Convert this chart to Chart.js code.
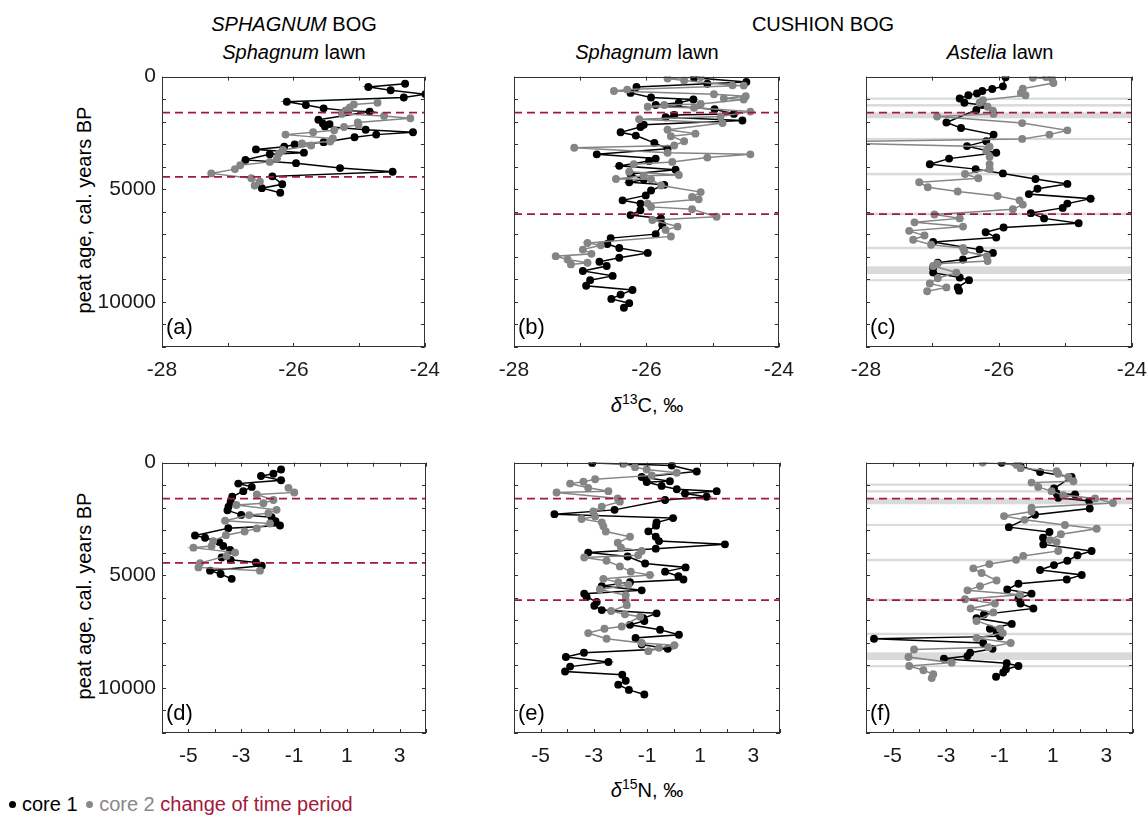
<!DOCTYPE html>
<html>
<head>
<meta charset="utf-8">
<script src="https://cdn.jsdelivr.net/npm/chart.js@4.4.0/dist/chart.umd.min.js"></script>
<style>
  body { margin: 0; width: 1148px; height: 817px; position: relative; background: #fff; overflow: hidden;
         font-family: "Liberation Sans", Arial, sans-serif; color: #000; }
  .c { position: absolute; }
  .t { position: absolute; font-size: 20px; white-space: nowrap; transform: translate(-50%, -50%); }
  .yl { position: absolute; font-size: 20px; white-space: nowrap; transform: translate(-50%, -50%) rotate(-90deg); }
  .pl { position: absolute; font-size: 22px; }
  #legend { position: absolute; left: 6px; top: 793px; font-size: 20px; white-space: nowrap; }
  #legend .dot { display: inline-block; width: 7px; height: 7px; border-radius: 50%; margin: 0 6px 2px 3px; vertical-align: middle; }
</style>
</head>
<body>
<div class="t" style="left:294px;top:24px"><i>SPHAGNUM</i> BOG</div>
<div class="t" style="left:294px;top:52px"><i>Sphagnum</i> lawn</div>
<div class="t" style="left:823px;top:24px">CUSHION BOG</div>
<div class="t" style="left:647px;top:52px"><i>Sphagnum</i> lawn</div>
<div class="t" style="left:1000px;top:52px"><i>Astelia</i> lawn</div>
<div class="yl" style="left:84px;top:210px">peat age, cal. years BP</div>
<div class="yl" style="left:84px;top:596px">peat age, cal. years BP</div>
<div class="t" style="left:647px;top:404px"><i>&delta;</i><sup style="font-size:14px">13</sup>C, &permil;</div>
<div class="t" style="left:647px;top:789px"><i>&delta;</i><sup style="font-size:14px">15</sup>N, &permil;</div>
<div id="legend"><span class="dot" style="background:#000"></span>core 1 <span class="dot" style="background:#888"></span><span style="color:#888">core 2</span> <span style="color:#a3183c">change of time period</span></div>

<script>
// axis ranges
const xC13 = [-28, -24];
const xN15 = [-6, 4];
const ageRange = [0, 12000];

// change of time period (cal. years BP)
const breaksSphagnumBog = [1600, 4450];
const breaksCushionBog = [1600, 6100];

// grey bands in the Astelia lawn profiles (cal. years BP)
const bandsAstelia = [[930, 1030], [1220, 1330], [1590, 1850], [2720, 2810], [4270, 4380],
  [6040, 6150], [7550, 7660], [8420, 8760], [8990, 9080]];

// [age, value] pairs
// (a) Sphagnum bog, Sphagnum lawn, d13C
const a1 = [[315,-24.30],[461,-24.86],[607,-24.52],[781,-23.99],[927,-24.32],[1117,-26.10],[1263,-25.81],
  [1408,-25.54],[1510,-25.20],[1554,-24.84],[1918,-25.62],[2093,-25.55],[2108,-25.45],[2210,-25.52],
  [2356,-24.90],[2473,-24.18],[2575,-24.74],[2690,-25.07],[2909,-25.54],[3011,-25.98],[3113,-26.14],
  [3230,-26.57],[3375,-25.84],[3448,-26.36],[3696,-26.73],[3842,-25.96],[4060,-25.29],[4221,-24.49],
  [4426,-26.32],[4776,-26.17],[4951,-26.48],[5155,-26.20]];
const a2 = [[1160,-24.72],[1233,-25.08],[1365,-25.14],[1510,-25.20],[1656,-25.26],[1744,-24.62],[1846,-24.22],
  [2035,-25.02],[2137,-25.01],[2240,-25.23],[2385,-25.38],[2473,-25.70],[2575,-26.12],[2750,-25.40],
  [2881,-25.44],[2968,-25.87],[3056,-25.73],[3260,-26.16],[3406,-26.22],[3640,-26.25],[3785,-26.36],
  [3931,-26.81],[4106,-26.89],[4296,-27.25],[4514,-26.64],[4660,-26.51],[4835,-26.59]];

// (b) Cushion bog, Sphagnum lawn, d13C
const b1 = [[52,-25.28],[242,-24.49],[315,-25.08],[461,-26.15],[723,-26.24],[927,-25.93],[1015,-25.29],
  [1161,-25.51],[1263,-25.86],[1452,-24.97],[1656,-24.68],[1700,-25.58],[1802,-25.71],[1948,-24.55],
  [2137,-26.04],[2240,-26.09],[2473,-26.39],[2618,-26.16],[2939,-25.88],[3202,-25.68],[3450,-26.75],
  [3639,-25.86],[3741,-25.96],[3960,-26.41],[4135,-25.56],[4325,-26.24],[4572,-26.04],[4689,-26.26],
  [4805,-25.73],[5053,-25.93],[5272,-26.01],[5491,-26.36],[5637,-26.09],[5928,-26.09],[6147,-26.24],
  [6292,-25.78],[6584,-25.76],[6992,-25.86],[7167,-26.54],[7430,-26.59],[7605,-26.41],[7823,-25.98],
  [8042,-26.41],[8217,-26.71],[8407,-26.60],[8625,-26.96],[8844,-26.51],[9034,-26.85],[9282,-26.91],
  [9471,-26.21],[9675,-26.39],[9865,-26.53],[10054,-26.26],[10258,-26.34]];
const b2 = [[23,-25.18],[82,-25.68],[169,-25.43],[388,-24.70],[400,-24.53],[577,-26.29],[636,-26.49],
  [781,-24.98],[869,-24.50],[971,-24.83],[1015,-24.53],[1219,-25.18],[1263,-25.73],[1336,-25.98],
  [1380,-25.28],[1554,-24.43],[1773,-24.88],[1889,-26.11],[2064,-24.85],[2356,-25.68],[2531,-25.26],
  [2648,-25.63],[2866,-25.43],[3056,-25.58],[3158,-27.09],[3377,-25.68],[3450,-24.43],[3595,-25.08],
  [3785,-25.61],[3887,-26.19],[4222,-26.26],[4368,-25.51],[4397,-26.04],[4543,-26.46],[4560,-25.93],
  [4835,-25.78],[5126,-25.18],[5345,-25.31],[5447,-25.21],[5637,-25.98],[5782,-25.93],[5884,-25.31],
  [6220,-24.94],[6366,-25.91],[6657,-25.53],[6803,-25.71],[7094,-25.63],[7386,-26.89],[7488,-26.69],
  [7678,-26.96],[7867,-26.83],[7969,-27.37],[8115,-27.19],[8261,-26.89],[8334,-27.14]];

// (c) Cushion bog, Astelia lawn, d13C
const c1 = [[30,-25.90],[432,-25.94],[548,-26.10],[636,-26.25],[752,-26.33],[825,-26.46],[971,-26.59],
  [1160,-26.52],[1263,-26.25],[1481,-26.34],[2035,-26.79],[2283,-26.57],[2575,-26.08],[2866,-26.19],
  [3085,-26.48],[3377,-26.04],[3640,-26.75],[3887,-27.04],[4106,-26.35],[4296,-25.94],[4543,-25.45],
  [4762,-24.97],[4980,-25.42],[5214,-25.55],[5418,-24.62],[5637,-24.97],[5826,-25.04],[6059,-25.52],
  [6292,-25.32],[6511,-24.80],[6700,-25.93],[6905,-26.20],[7138,-26.04],[7342,-26.99],[7678,-26.29],
  [7824,-26.09],[8115,-26.54],[8261,-26.92],[8480,-26.99],[8699,-26.99],[8917,-26.59],[9034,-26.45],
  [9354,-26.62],[9500,-26.60]];
const c2 = [[20,-25.29],[52,-25.49],[96,-25.20],[286,-25.18],[534,-25.64],[723,-25.67],[825,-25.60],
  [1044,-26.24],[1161,-26.29],[1336,-26.17],[1510,-26.09],[1656,-26.08],[1773,-26.93],[2064,-25.65],
  [2385,-24.97],[2575,-25.24],[2764,-25.65],[2910,-29.00],[3114,-26.14],[3304,-26.19],[3552,-26.14],
  [3887,-26.14],[4106,-26.14],[4325,-26.51],[4514,-26.31],[4689,-27.20],[4908,-27.07],[5097,-26.62],
  [5301,-26.02],[5491,-25.69],[5680,-25.64],[5884,-25.79],[6117,-26.97],[6292,-26.59],[6468,-27.27],
  [6657,-26.54],[6846,-27.35],[7050,-27.12],[7240,-27.29],[7459,-27.02],[7605,-26.54],[7751,-26.52],
  [7969,-26.18],[8188,-26.17],[8305,-26.93],[8407,-26.99],[8699,-26.64],[8947,-26.92],[9180,-27.04],
  [9354,-26.79],[9529,-27.08]];

// (d) Sphagnum bog, Sphagnum lawn, d15N
const d1 = [[306,-1.49],[494,-1.78],[596,-2.25],[786,-1.49],[932,-3.11],[1078,-2.60],[1267,-2.92],
  [1515,-3.34],[1750,-3.40],[1952,-3.48],[2120,-3.52],[2320,-3.00],[2420,-1.85],[2600,-1.70],
  [2790,-1.53],[2911,-3.49],[3235,-4.75],[3337,-4.37],[3527,-3.83],[3702,-3.68],[3877,-3.42],
  [4213,-3.74],[4315,-3.40],[4431,-2.44],[4577,-2.22],[4795,-4.18],[4942,-3.78],[5160,-3.36]];
const d2 = [[1121,-1.21],[1325,-0.99],[1413,-2.41],[1661,-1.78],[1807,-2.16],[1880,-3.18],[2098,-1.66],
  [2244,-1.97],[2330,-2.70],[2580,-3.61],[2700,-1.91],[2920,-2.41],[3060,-2.87],[3220,-3.58],
  [3484,-4.06],[3702,-4.12],[3775,-4.81],[3994,-3.23],[4140,-3.55],[4460,-4.56],[4650,-4.62],[4795,-2.29]];

// (e) Cushion bog, Sphagnum lawn, d15N
const e1 = [[13,-3.06],[130,-0.07],[392,0.87],[640,-1.20],[830,-0.14],[860,-1.01],[1034,-0.45],
  [1180,0.12],[1267,1.62],[1369,0.43],[1515,1.24],[1661,-0.32],[2098,-2.22],[2288,-4.48],[2463,-0.02],
  [2660,-0.64],[2798,-0.66],[3050,-0.95],[3294,-0.67],[3483,-0.55],[3629,1.93],[3819,-0.67],[3994,-3.21],
  [4169,-1.73],[4475,-1.07],[4650,0.45],[4839,-0.32],[5043,0.18],[5189,0.37],[5306,-1.64],[5481,-2.70],
  [5670,-1.20],[5816,-3.36],[5962,-3.27],[6181,-2.89],[6356,-2.98],[6546,-2.70],[6691,-0.64],
  [6910,-1.14],[7027,-1.10],[7201,-1.64],[7420,-0.51],[7639,0.20],[7784,-1.43],[8076,-1.20],
  [8266,-0.22],[8441,-3.37],[8630,-4.05],[8849,-2.45],[9053,-3.89],[9272,-4.08],[9418,-1.93],
  [9680,-1.80],[9855,-2.08],[10088,-1.68],[10292,-1.10]];
const e2 = [[57,-1.89],[203,-1.45],[305,-1.01],[451,0.12],[567,-0.82],[742,-2.95],[850,-3.39],
  [932,-3.89],[1121,-3.21],[1267,-2.45],[1325,-4.40],[1588,-2.10],[1734,-2.02],[1953,-2.70],
  [2171,-3.02],[2390,-2.95],[2500,-3.46],[2652,-2.70],[2830,-2.64],[3060,-2.55],[3294,-1.64],
  [3556,-2.10],[3775,-1.98],[3921,-1.20],[4110,-1.33],[4213,-3.36],[4358,-2.52],[4606,-2.02],
  [4839,-1.61],[4985,-0.89],[5160,-2.64],[5306,-2.08],[5423,-1.70],[5627,-2.77],[5890,-1.80],
  [6108,-1.80],[6327,-1.76],[6589,-2.35],[6735,-1.83],[6837,-1.26],[7274,-1.95],[7376,-2.60],
  [7566,-3.21],[7814,-2.52],[8003,-1.20],[8105,0.03],[8222,-0.55],[8368,-0.95]];

// (f) Cushion bog, Astelia lawn, d15N
const f1 = [[10,-0.92],[159,-0.21],[421,0.52],[640,1.70],[1150,1.04],[1369,1.14],[1413,1.83],
  [1559,1.20],[1705,2.36],[2040,2.38],[2317,0.33],[2864,-0.65],[3082,0.87],[3330,0.63],[3630,0.64],
  [3921,2.45],[4111,1.92],[4358,1.54],[4548,1.04],[4766,0.52],[4985,2.08],[5189,1.52],[5379,-0.29],
  [5627,-0.71],[5816,0.20],[6035,-0.29],[6254,-0.21],[6473,0.27],[6735,-1.58],[6910,-1.86],
  [7158,-0.54],[7376,-1.36],[7522,-1.11],[7712,-0.98],[7814,-5.70],[8003,-1.61],[8265,-1.26],
  [8441,-2.10],[8587,-2.20],[8703,-3.08],[8907,-0.73],[9024,-0.29],[9170,-0.76],[9316,-0.86],[9505,-1.13]];
const f2 = [[0,-1.63],[101,-0.36],[246,-0.21],[380,1.14],[494,1.20],[640,1.58],[830,1.77],[888,0.20],
  [1078,0.45],[1267,0.95],[1442,1.39],[1588,2.58],[1790,3.25],[1996,0.20],[2171,0.20],[2375,-0.83],
  [2540,-0.06],[2770,1.45],[2935,2.64],[3180,1.30],[3440,0.89],[3527,1.14],[3921,1.20],[4140,-0.11],
  [4315,-0.38],[4504,-1.38],[4694,-1.98],[4898,-1.67],[5232,-1.11],[5481,-1.73],[5670,-2.20],
  [5860,-0.23],[6064,-2.29],[6254,-1.17],[6473,-2.08],[6648,-1.23],[7027,-1.86],[7376,-0.98],
  [7566,-0.88],[7785,-1.86],[8003,-0.58],[8193,-1.42],[8295,-4.20],[8630,-4.41],[8878,-2.79],
  [9024,-4.38],[9214,-3.85],[9389,-3.48],[9563,-3.54]];

const BLACK = '#000000';
const GREY = '#858585';
const RED = '#a3183c';
const BAND = '#dadada';
const FONT = { family: '"Liberation Sans", Arial, sans-serif', size: 21 };

// plot-area geometry (px)
const cols = [{ left: 162, w: 264 }, { left: 514, w: 266 }, { left: 866, w: 267 }];
const rows = [{ top: 73, h: 274 }, { top: 459, h: 274 }];
const PAD_L = 80, PAD_T = 15, PAD_R = 25, PAD_B = 45;

// grey bands behind the data
const bandsPlugin = {
  id: 'bands',
  beforeDatasetsDraw(chart, args, opts) {
    if (!opts.list) return;
    const { ctx, chartArea: a, scales: { y } } = chart;
    ctx.save();
    ctx.fillStyle = BAND;
    opts.list.forEach(b => {
      const y0 = y.getPixelForValue(b[0]);
      const y1 = y.getPixelForValue(b[1]);
      ctx.fillRect(a.left, y0, a.width, y1 - y0);
    });
    ctx.restore();
  }
};

// box with inward ticks on all four sides
const framePlugin = {
  id: 'frame',
  afterDatasetsDraw(chart) {
    const { ctx, chartArea: a, scales: { x, y } } = chart;
    ctx.save();
    ctx.strokeStyle = '#333';
    ctx.lineWidth = 1;
    ctx.beginPath();
    x.ticks.forEach(t => {
      const px = Math.round(x.getPixelForValue(t.value)) + 0.5;
      ctx.moveTo(px, a.bottom); ctx.lineTo(px, a.bottom - 4);
      ctx.moveTo(px, a.top); ctx.lineTo(px, a.top + 4);
    });
    y.ticks.forEach(t => {
      const py = Math.round(y.getPixelForValue(t.value)) + 0.5;
      ctx.moveTo(a.left, py); ctx.lineTo(a.left + 4, py);
      ctx.moveTo(a.right, py); ctx.lineTo(a.right - 4, py);
    });
    ctx.stroke();
    ctx.strokeRect(Math.round(a.left) + 0.5, Math.round(a.top) + 0.5, Math.round(a.width) - 1, Math.round(a.height) - 1);
    ctx.restore();
  }
};

function series(pairs, color, order) {
  return {
    data: pairs.map(p => ({ x: p[1], y: p[0] })),
    showLine: true,
    borderColor: color,
    backgroundColor: color,
    pointBackgroundColor: color,
    pointBorderColor: color,
    borderWidth: 1.5,
    pointRadius: 3.2,
    pointHoverRadius: 3.2,
    order: order
  };
}

function breakLine(age, xr) {
  return {
    data: [{ x: xr[0], y: age }, { x: xr[1], y: age }],
    showLine: true,
    borderColor: RED,
    borderWidth: 1.7,
    borderDash: [8, 5],
    pointRadius: 0,
    order: 0
  };
}

function makePanel(label, col, row, core1, core2, xr, breaks, bands, yLabels) {
  const c = cols[col], r = rows[row];
  const wrap = document.createElement('div');
  wrap.className = 'c';
  wrap.style.left = (c.left - PAD_L) + 'px';
  wrap.style.top = (r.top - PAD_T) + 'px';
  const cv = document.createElement('canvas');
  cv.width = PAD_L + c.w + PAD_R;
  cv.height = PAD_T + r.h + PAD_B;
  wrap.appendChild(cv);
  document.body.appendChild(wrap);

  const lab = document.createElement('div');
  lab.className = 'pl';
  lab.textContent = label;
  lab.style.left = (c.left + 4) + 'px';
  lab.style.top = (r.top + r.h - 33) + 'px';
  document.body.appendChild(lab);

  const isC = xr === xC13;
  new Chart(cv, {
    type: 'scatter',
    data: {
      datasets: [
        ...breaks.map(b => breakLine(b, xr)),
        series(core2, GREY, 1),
        series(core1, BLACK, 2)
      ]
    },
    options: {
      responsive: false,
      animation: false,
      layout: { padding: { top: PAD_T, right: PAD_R, left: 0, bottom: 0 } },
      plugins: { legend: { display: false }, tooltip: { enabled: false }, bands: { list: bands } },
      scales: {
        x: {
          type: 'linear', min: xr[0], max: xr[1],
          grid: { display: false, drawTicks: false },
          border: { display: false },
          afterFit: s => { s.height = PAD_B; },
          ticks: {
            stepSize: 1, autoSkip: false, maxRotation: 0, padding: 11, color: '#1a1a1a', font: FONT,
            callback: v => (isC ? v % 2 === 0 : Math.abs(v % 2) === 1) ? String(v) : ''
          }
        },
        y: {
          type: 'linear', min: ageRange[0], max: ageRange[1], reverse: true,
          grid: { display: false, drawTicks: false },
          border: { display: false },
          afterFit: s => { s.width = PAD_L; },
          ticks: {
            stepSize: 1000, autoSkip: false, padding: 6, color: '#1a1a1a', font: FONT,
            callback: v => (yLabels && v % 5000 === 0) ? String(v) : ''
          }
        }
      }
    },
    plugins: [bandsPlugin, framePlugin]
  });
}

makePanel('(a)', 0, 0, a1, a2, xC13, breaksSphagnumBog, null, true);
makePanel('(b)', 1, 0, b1, b2, xC13, breaksCushionBog, null, false);
makePanel('(c)', 2, 0, c1, c2, xC13, breaksCushionBog, bandsAstelia, false);
makePanel('(d)', 0, 1, d1, d2, xN15, breaksSphagnumBog, null, true);
makePanel('(e)', 1, 1, e1, e2, xN15, breaksCushionBog, null, false);
makePanel('(f)', 2, 1, f1, f2, xN15, breaksCushionBog, bandsAstelia, false);
</script>
</body>
</html>
